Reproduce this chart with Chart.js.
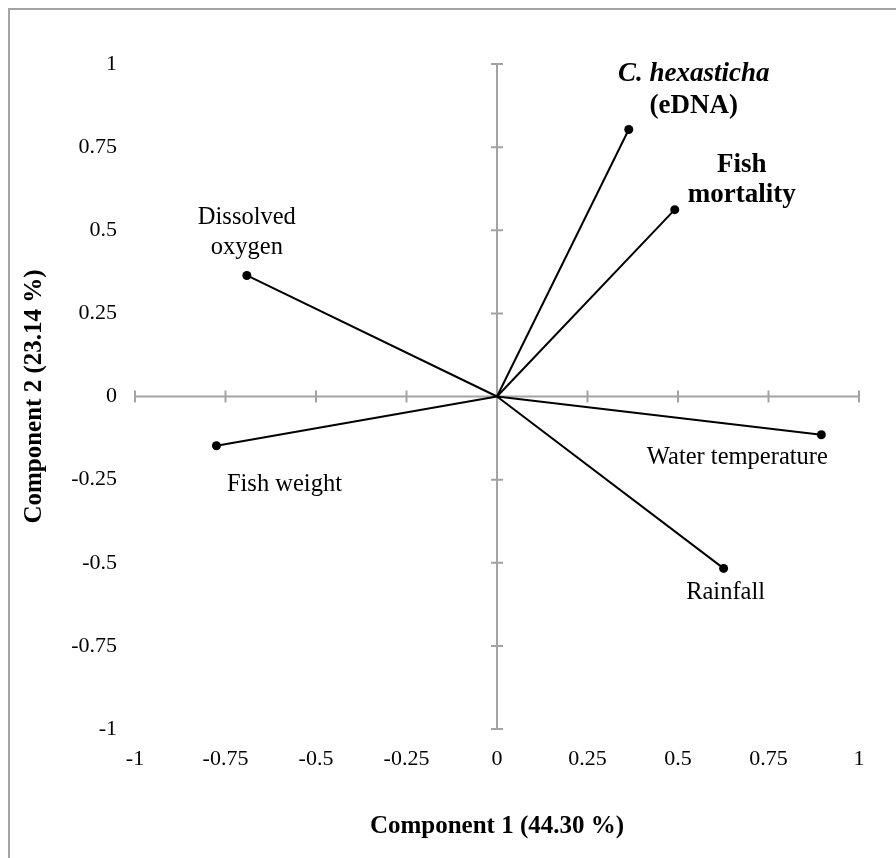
<!DOCTYPE html>
<html>
<head>
<meta charset="utf-8">
<title>PCA</title>
<script src="https://cdn.jsdelivr.net/npm/chart.js@4.4.1/dist/chart.umd.min.js"></script>
<style>
    body { margin: 0; background: #ffffff; }
    #wrap { width: 896px; height: 858px; }
</style>
</head>
<body>
<div id="wrap"><canvas id="pcaChart" width="896" height="858"></canvas></div>
<script>
// variables and loadings (component 1, component 2)
var variables = ['C. hexasticha (eDNA)', 'Fish mortality', 'Dissolved oxygen', 'Fish weight', 'Water temperature', 'Rainfall'];
var component1 = [0.364, 0.491, -0.691, -0.775, 0.896, 0.626];
var component2 = [0.803, 0.562, 0.364, -0.148, -0.115, -0.517];
var axisTicks = [-1, -0.75, -0.5, -0.25, 0, 0.25, 0.5, 0.75, 1];
var xTitle = 'Component 1 (44.30 %)';
var yTitle = 'Component 2 (23.14 %)';

// text shown next to each arrow, one entry per line
var labelLines = [
    ['C. hexasticha', '(eDNA)'],
    ['Fish', 'mortality'],
    ['Dissolved', 'oxygen'],
    ['Fish weight'],
    ['Water temperature'],
    ['Rainfall']
];

// where the labels go, relative to the end point (pixels)
var labelStyle = [
    { dx: 65, dy: -55, lh: 32, fonts: ['italic bold 27px "Liberation Serif"', 'bold 27px "Liberation Serif"'] },
    { dx: 67, dy: -45, lh: 30, fonts: ['bold 27px "Liberation Serif"', 'bold 27px "Liberation Serif"'] },
    { dx: 0, dy: -58, lh: 30, fonts: ['24.5px "Liberation Serif"', '24.5px "Liberation Serif"'] },
    { dx: 68, dy: 39, lh: 30, fonts: ['24.5px "Liberation Serif"'] },
    { dx: -84, dy: 23, lh: 30, fonts: ['24.5px "Liberation Serif"'] },
    { dx: 2, dy: 24, lh: 30, fonts: ['24.5px "Liberation Serif"'] }
];

var AXIS_GREY = '#a3a3a3';

function buildDatasets() {
    var sets = [];
    for (var i = 0; i < variables.length; i++) {
        sets.push({
            label: variables[i],
            data: [{ x: 0, y: 0 }, { x: component1[i], y: component2[i] }],
            showLine: true,
            borderColor: '#000000',
            borderWidth: 2,
            pointRadius: [0, 4.5],
            pointBackgroundColor: '#000000',
            pointBorderColor: '#000000',
            pointBorderWidth: 0
        });
    }
    return sets;
}

// white background + outer frame
var framePlugin = {
    id: 'frame',
    beforeDraw: function (chart) {
        var ctx = chart.ctx;
        ctx.save();
        ctx.fillStyle = '#ffffff';
        ctx.fillRect(0, 0, chart.width, chart.height);
        ctx.strokeStyle = AXIS_GREY;
        ctx.lineWidth = 2;
        ctx.strokeRect(9, 9, chart.width + 20, chart.height + 20);
        ctx.restore();
    }
};

// axes crossing at the origin, with tick marks on both sides
var crossAxesPlugin = {
    id: 'crossAxes',
    beforeDatasetsDraw: function (chart) {
        var ctx = chart.ctx;
        var sx = chart.scales.x, sy = chart.scales.y;
        var x0 = sx.getPixelForValue(0), y0 = sy.getPixelForValue(0);
        var half = 6;
        ctx.save();
        ctx.strokeStyle = AXIS_GREY;
        ctx.lineWidth = 2;
        ctx.beginPath();
        ctx.moveTo(sx.getPixelForValue(axisTicks[0]), y0);
        ctx.lineTo(sx.getPixelForValue(axisTicks[axisTicks.length - 1]), y0);
        ctx.moveTo(x0, sy.getPixelForValue(axisTicks[0]));
        ctx.lineTo(x0, sy.getPixelForValue(axisTicks[axisTicks.length - 1]));
        for (var i = 0; i < axisTicks.length; i++) {
            if (axisTicks[i] === 0) continue;
            var px = sx.getPixelForValue(axisTicks[i]);
            ctx.moveTo(px, y0 - half);
            ctx.lineTo(px, y0 + half);
            var py = sy.getPixelForValue(axisTicks[i]);
            ctx.moveTo(x0 - half, py);
            ctx.lineTo(x0 + half, py);
        }
        ctx.stroke();
        ctx.restore();
    }
};

var pointLabelsPlugin = {
    id: 'pointLabels',
    afterDatasetsDraw: function (chart) {
        var ctx = chart.ctx;
        ctx.save();
        ctx.fillStyle = '#000000';
        ctx.textAlign = 'center';
        ctx.textBaseline = 'middle';
        for (var i = 0; i < labelLines.length; i++) {
            var end = chart.getDatasetMeta(i).data[1];
            var st = labelStyle[i];
            for (var j = 0; j < labelLines[i].length; j++) {
                ctx.font = st.fonts[j];
                ctx.fillText(labelLines[i][j], end.x + st.dx, end.y + st.dy + j * st.lh);
            }
        }
        ctx.restore();
    }
};

function loadChart() {
    var canvas = document.getElementById('pcaChart');
    var ctx = canvas.getContext('2d');
    var tickFont = { family: 'Liberation Serif', size: 22 };
    var titleFont = { family: 'Liberation Serif', size: 25, weight: 'bold' };

    new Chart(ctx, {
        type: 'scatter',
        data: { datasets: buildDatasets() },
        options: {
            responsive: false,
            devicePixelRatio: 1,
            animation: false,
            layout: { padding: { top: 64, right: 37, left: 0, bottom: 0 } },
            plugins: {
                legend: { display: false },
                tooltip: { enabled: false }
            },
            scales: {
                x: {
                    type: 'linear',
                    min: -1,
                    max: 1,
                    afterBuildTicks: function (scale) {
                        scale.ticks = axisTicks.map(function (v) { return { value: v }; });
                    },
                    afterFit: function (scale) { scale.height = 129; },
                    grid: { display: false, drawTicks: false, tickLength: 0 },
                    border: { display: false },
                    ticks: {
                        color: '#000000',
                        font: tickFont,
                        padding: 17,
                        maxRotation: 0,
                        callback: function (v) { return String(v); }
                    },
                    title: {
                        display: true,
                        text: xTitle,
                        color: '#000000',
                        font: titleFont,
                        padding: { top: 0, bottom: 16 }
                    }
                },
                y: {
                    type: 'linear',
                    min: -1,
                    max: 1,
                    afterBuildTicks: function (scale) {
                        scale.ticks = axisTicks.map(function (v) { return { value: v }; });
                    },
                    afterFit: function (scale) { scale.width = 135; },
                    grid: { display: false, drawTicks: false, tickLength: 0 },
                    border: { display: false },
                    ticks: {
                        color: '#000000',
                        font: tickFont,
                        padding: 18,
                        callback: function (v) { return String(v); }
                    },
                    title: {
                        display: true,
                        text: yTitle,
                        color: '#000000',
                        font: titleFont,
                        padding: { top: 20, bottom: 0 }
                    }
                }
            }
        },
        plugins: [framePlugin, crossAxesPlugin, pointLabelsPlugin]
    });
}

loadChart();
</script>
</body>
</html>
